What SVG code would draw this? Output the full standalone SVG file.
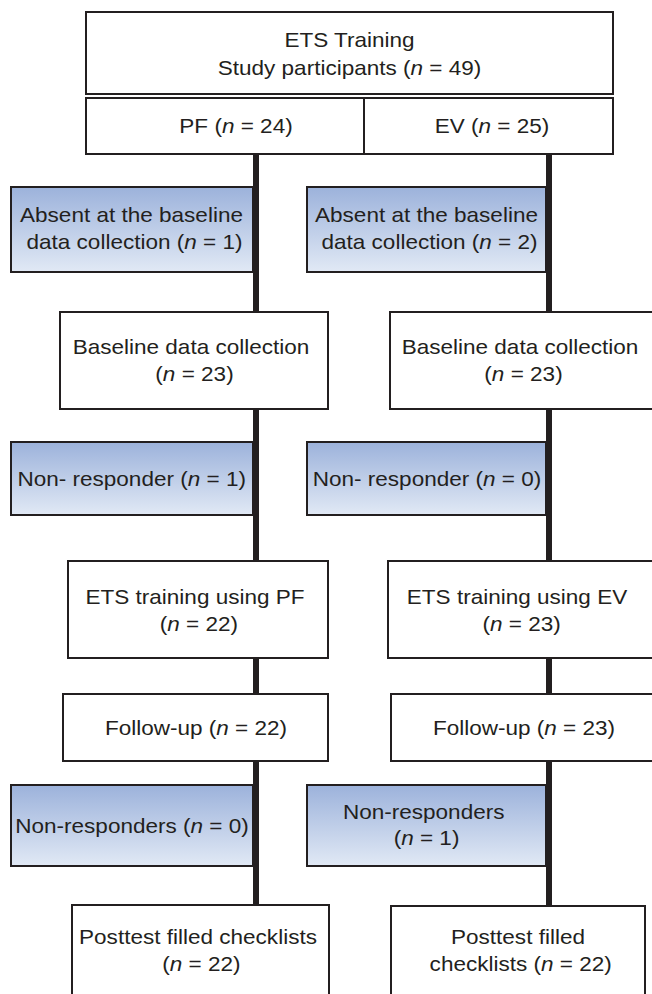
<svg xmlns="http://www.w3.org/2000/svg" width="652" height="994" viewBox="0 0 652 994">
<defs>
<linearGradient id="blue" x1="0" y1="0" x2="0" y2="1">
<stop offset="0" stop-color="#9cb2db"/>
<stop offset="1" stop-color="#e1e9f5"/>
</linearGradient>
<style>
.box{fill:#ffffff;stroke:#231f20;stroke-width:2}
.bbox{fill:url(#blue);stroke:#231f20;stroke-width:2}
.line{stroke:#231f20;stroke-width:6;fill:none}
text{font-family:"Liberation Sans",Arial,Helvetica,sans-serif;font-size:20.3px;fill:#231f20;text-anchor:middle}
.i{font-style:italic}
</style>
</defs>
<rect width="652" height="994" fill="#ffffff"/>
<g id="connectors">
<line class="line" x1="256" y1="154" x2="256" y2="312"/>
<line class="line" x1="256" y1="409" x2="256" y2="561"/>
<line class="line" x1="256" y1="658" x2="256" y2="694"/>
<line class="line" x1="256" y1="761" x2="256" y2="905"/>
<line class="line" x1="549" y1="154" x2="549" y2="312"/>
<line class="line" x1="549" y1="409" x2="549" y2="561"/>
<line class="line" x1="549" y1="658" x2="549" y2="694"/>
<line class="line" x1="549" y1="761" x2="549" y2="906"/>
</g>
<g id="n_top">
<rect class="box" x="86" y="12" width="527" height="82"/>
<text transform="translate(349.5 47) scale(1.11 1)">ETS Training</text>
<text transform="translate(349.5 75) scale(1.11 1)">Study participants (<tspan class="i">n</tspan> = 49)</text>
</g>
<g id="n_split">
<rect class="box" x="86" y="98" width="527" height="56"/>
<line x1="364" y1="98" x2="364" y2="154" stroke="#231f20" stroke-width="2"/>
</g>
<g id="n_pf">
<text transform="translate(236 133) scale(1.11 1)">PF (<tspan class="i">n</tspan> = 24)</text>
</g>
<g id="n_ev">
<text transform="translate(492 133) scale(1.11 1)">EV (<tspan class="i">n</tspan> = 25)</text>
</g>
<g id="n_absent_pf">
<rect class="bbox" x="11" y="187" width="242" height="85"/>
<text transform="translate(131.5 221.5) scale(1.11 1)">Absent at the baseline</text>
<text transform="translate(134.5 248.5) scale(1.11 1)">data collection (<tspan class="i">n</tspan> = 1)</text>
</g>
<g id="n_absent_ev">
<rect class="bbox" x="307" y="187" width="239" height="85"/>
<text transform="translate(426.5 221.5) scale(1.11 1)">Absent at the baseline</text>
<text transform="translate(429.5 248.5) scale(1.11 1)">data collection (<tspan class="i">n</tspan> = 2)</text>
</g>
<g id="n_baseline_pf">
<rect class="box" x="60" y="312" width="268" height="97"/>
<text transform="translate(191 354) scale(1.11 1)">Baseline data collection</text>
<text transform="translate(194.5 380.5) scale(1.11 1)">(<tspan class="i">n</tspan> = 23)</text>
</g>
<g id="n_baseline_ev">
<rect class="box" x="390" y="312" width="265" height="97"/>
<text transform="translate(520 354) scale(1.11 1)">Baseline data collection</text>
<text transform="translate(523.5 380.5) scale(1.11 1)">(<tspan class="i">n</tspan> = 23)</text>
</g>
<g id="n_nonresp1_pf">
<rect class="bbox" x="11" y="442" width="242" height="73"/>
<text transform="translate(131.7 486) scale(1.11 1)">Non- responder (<tspan class="i">n</tspan> = 1)</text>
</g>
<g id="n_nonresp1_ev">
<rect class="bbox" x="307" y="442" width="239" height="73"/>
<text transform="translate(427 486) scale(1.11 1)">Non- responder (<tspan class="i">n</tspan> = 0)</text>
</g>
<g id="n_training_pf">
<rect class="box" x="68" y="561" width="260" height="97"/>
<text transform="translate(195 604) scale(1.11 1)">ETS training using PF</text>
<text transform="translate(198.8 630.5) scale(1.11 1)">(<tspan class="i">n</tspan> = 22)</text>
</g>
<g id="n_training_ev">
<rect class="box" x="388" y="561" width="267" height="97"/>
<text transform="translate(517 604) scale(1.11 1)">ETS training using EV</text>
<text transform="translate(521.7 630.5) scale(1.11 1)">(<tspan class="i">n</tspan> = 23)</text>
</g>
<g id="n_followup_pf">
<rect class="box" x="63" y="694" width="265" height="67"/>
<text transform="translate(196 734.7) scale(1.11 1)">Follow-up (<tspan class="i">n</tspan> = 22)</text>
</g>
<g id="n_followup_ev">
<rect class="box" x="391" y="694" width="264" height="67"/>
<text transform="translate(524 734.7) scale(1.11 1)">Follow-up (<tspan class="i">n</tspan> = 23)</text>
</g>
<g id="n_nonresp2_pf">
<rect class="bbox" x="11" y="785" width="242" height="81"/>
<text transform="translate(132 832.5) scale(1.11 1)">Non-responders (<tspan class="i">n</tspan> = 0)</text>
</g>
<g id="n_nonresp2_ev">
<rect class="bbox" x="307" y="785" width="239" height="81"/>
<text transform="translate(423.7 818.7) scale(1.11 1)">Non-responders</text>
<text transform="translate(426.5 845.3) scale(1.11 1)">(<tspan class="i">n</tspan> = 1)</text>
</g>
<g id="n_posttest_pf">
<rect class="box" x="72" y="905" width="257" height="100"/>
<text transform="translate(198 943.7) scale(1.11 1)">Posttest filled checklists</text>
<text transform="translate(201.3 971) scale(1.11 1)">(<tspan class="i">n</tspan> = 22)</text>
</g>
<g id="n_posttest_ev">
<rect class="box" x="391" y="906" width="254" height="100"/>
<text transform="translate(518 943.7) scale(1.11 1)">Posttest filled</text>
<text transform="translate(520.7 970.5) scale(1.11 1)">checklists (<tspan class="i">n</tspan> = 22)</text>
</g>
</svg>
